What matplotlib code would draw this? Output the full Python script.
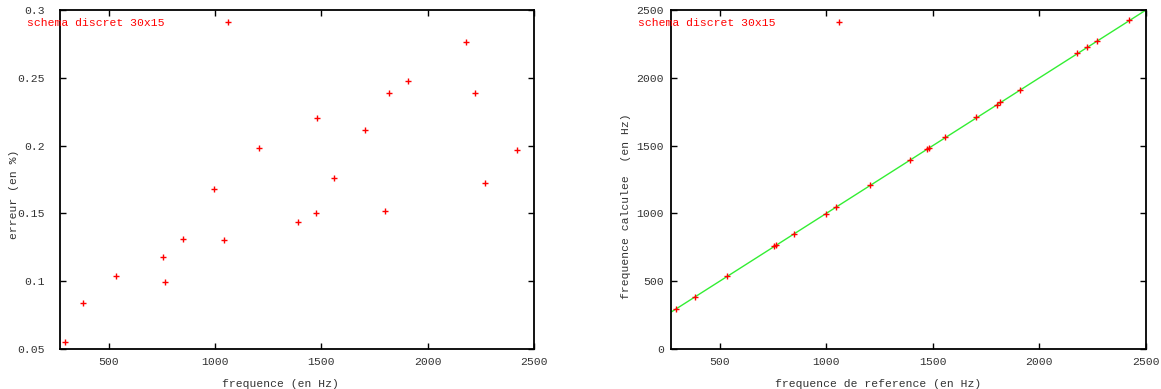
import matplotlib
matplotlib.use("Agg")
import matplotlib.pyplot as plt

# frequences de reference (Hz)
freq_ref = [296, 382, 535, 756, 765, 850, 997, 1044, 1207, 1391, 1473,
            1480, 1559, 1704, 1800, 1817, 1909, 2178, 2221, 2269, 2419]
# erreur relative (en %)
erreur = [0.0554, 0.0837, 0.104, 0.118, 0.0996, 0.1313, 0.1678, 0.1304,
          0.198, 0.1437, 0.150, 0.2201, 0.1763, 0.2117, 0.1515, 0.239,
          0.2474, 0.2766, 0.239, 0.1722, 0.1965]
# frequences calculees (Hz)
freq_calc = [296.2, 382.3, 535.6, 756.9, 765.8, 851.1, 998.7, 1045.4,
             1209.4, 1393.0, 1475.2, 1483.3, 1561.7, 1707.6, 1802.7,
             1821.3, 1913.7, 2184.0, 2226.3, 2272.9, 2423.8]
# droite y = x
ref_line = [272, 2500]

label = "schema discret 30x15"
xticks = [500, 1000, 1500, 2000, 2500]

plt.rcParams['font.family'] = ['Liberation Mono', 'DejaVu Sans Mono']
plt.rcParams['font.size'] = 8.2

fig = plt.figure(figsize=(11.61, 3.89), dpi=100)
ax1 = fig.add_axes([0.0517, 0.1028, 0.4085, 0.8715])
ax2 = fig.add_axes([0.578, 0.1028, 0.4091, 0.8715])

ax1.plot(freq_ref, erreur, '+', color='red', ms=5, mew=1, label=label)
ax1.set_xlim(272, 2500)
ax1.set_ylim(0.05, 0.3)
ax1.set_yticks([0.05, 0.1, 0.15, 0.2, 0.25, 0.3])
ax1.set_yticklabels(['0.05', '0.1', '0.15', '0.2', '0.25', '0.3'])
ax1.set_xlabel('frequence (en Hz)', color='#333333')
ax1.set_ylabel('erreur (en %)', color='#333333')
ax1.xaxis.set_label_coords(0.464, -0.088)
ax1.yaxis.set_label_coords(-0.087, 0.457)
ax1.tick_params(axis='y', pad=11)

ax2.plot(ref_line, ref_line, '-', color='#33ee33', lw=1)
ax2.plot(freq_ref, freq_calc, '+', color='red', ms=5, mew=1, label=label)
ax2.set_xlim(272, 2500)
ax2.set_ylim(0, 2500)
ax2.set_yticks([0, 500, 1000, 1500, 2000, 2500])
ax2.set_xlabel('frequence de reference (en Hz)', color='#333333')
ax2.set_ylabel('frequence calculee  (en Hz)', color='#333333')
ax2.xaxis.set_label_coords(0.437, -0.088)
ax2.yaxis.set_label_coords(-0.085, 0.422)
ax2.tick_params(axis='y', pad=5)

for ax in (ax1, ax2):
    ax.set_xticks(xticks)
    ax.tick_params(direction='in', length=4, width=1, top=True, right=True,
                   labelcolor='#333333')
    ax.tick_params(axis='x', pad=6)
    for s in ax.spines.values():
        s.set_linewidth(1.3)
    leg = ax.legend(loc='upper left', bbox_to_anchor=(-0.087, 1.0),
                    frameon=False, markerfirst=False, handlelength=1.0,
                    handletextpad=5.1, borderaxespad=0.3)
    for t in leg.get_texts():
        t.set_color('red')

fig.savefig('out.png', dpi=100)
